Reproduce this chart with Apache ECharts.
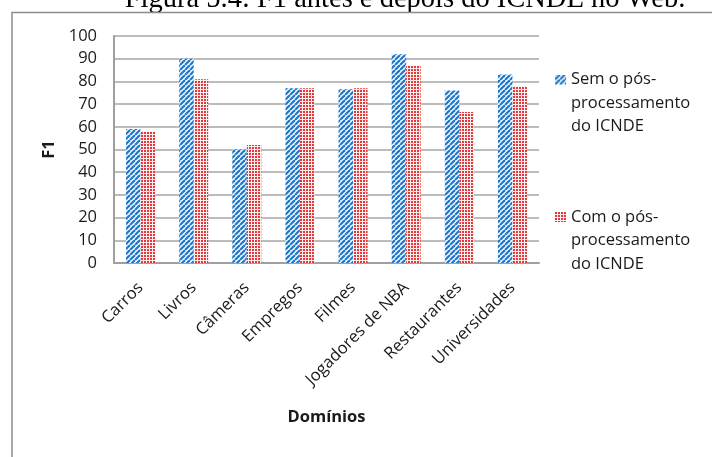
<!DOCTYPE html>
<html>
<head>
<meta charset="utf-8">
<script src="https://cdn.jsdelivr.net/npm/echarts@6/dist/echarts.min.js"></script>
<style>
  html, body { margin: 0; padding: 0; background: #fff; }
  #chart { width: 712px; height: 457px; }
</style>
</head>
<body>
<div id="chart"></div>
<script>
// Domains evaluated and F1 scores (%) with and without ICNDE post-processing
const categories = ['Carros', 'Livros', 'Câmeras', 'Empregos', 'Filmes', 'Jogadores de NBA', 'Restaurantes', 'Universidades'];
const semPos = [59, 90, 50, 77, 76.5, 92, 76, 83];
const comPos = [58, 81, 52, 77, 77, 87, 66.5, 78];
const seriesNames = ['Sem o pós-processamento do ICNDE', 'Com o pós-processamento do ICNDE'];
const legendLines = {
  'Sem o pós-processamento do ICNDE': 'Sem o pós-\nprocessamento\ndo ICNDE',
  'Com o pós-processamento do ICNDE': 'Com o pós-\nprocessamento\ndo ICNDE'
};
const yTicks = { min: 0, max: 100, interval: 10 };

// Hatch fill: upward diagonal blue stripes
function stripeTile() {
  const n = 5;
  const c = document.createElement('canvas');
  c.width = c.height = n;
  const g = c.getContext('2d');
  g.fillStyle = '#f4f8fd';
  g.fillRect(0, 0, n, n);
  g.strokeStyle = '#1e78cc';
  g.lineWidth = 2.2;
  for (const o of [-n, 0, n]) {
    g.beginPath();
    g.moveTo(o, n);
    g.lineTo(o + n, 0);
    g.stroke();
  }
  return c;
}

// Dotted fill: small red squares on a pale background
function dotTile() {
  const c = document.createElement('canvas');
  c.width = c.height = 3;
  const g = c.getContext('2d');
  g.fillStyle = '#fdeeee';
  g.fillRect(0, 0, 3, 3);
  g.fillStyle = '#e4393c';
  g.fillRect(0, 0, 2, 2);
  return c;
}

const stripeCanvas = stripeTile();
const dotCanvas = dotTile();
const blueFill = { image: stripeCanvas, repeat: 'repeat' };
const redFill = { image: dotCanvas, repeat: 'repeat' };

const FONT = '"Open Sans", "DejaVu Sans", sans-serif';
const FS = 16.5;
const TEXT = '#1a1a1a';
const LINE_H = 23.5;
const ICON_W = 11, ICON_H = 10;
const ITEM_H = 2 * LINE_H + ICON_H;

// Legend swatch: patterned square at the top of a tall transparent strip,
// so that it sits beside the first line of the three-line label.
function legendIcon(tile) {
  const c = document.createElement('canvas');
  c.width = ICON_W;
  c.height = ITEM_H;
  const g = c.getContext('2d');
  g.fillStyle = g.createPattern(tile, 'repeat');
  g.fillRect(0, 0, ICON_W, ICON_H);
  return 'image://' + c.toDataURL();
}

function legendFor(name, tile, firstLineY) {
  return {
    data: [{ name: name, icon: legendIcon(tile) }],
    orient: 'vertical',
    left: 555,
    top: firstLineY - ICON_H / 2 - (1.5 * LINE_H - ITEM_H / 2),
    padding: 0,
    itemWidth: ICON_W,
    itemHeight: ITEM_H,
    formatter: n => legendLines[n],
    textStyle: {
      fontFamily: FONT,
      fontSize: FS,
      color: TEXT,
      lineHeight: LINE_H
    }
  };
}

const chart = echarts.init(document.getElementById('chart'), null, { renderer: 'canvas' });

chart.setOption({
  backgroundColor: '#fff',
  animation: false,
  graphic: [
    {
      type: 'text',
      x: 405,
      y: 0,
      style: {
        text: 'Figura 5.4: F1 antes e depois do ICNDE no Web.',
        font: '28.5px "Liberation Serif", "Times New Roman", serif',
        fill: '#000',
        align: 'center',
        verticalAlign: 'middle'
      }
    },
    {
      type: 'rect',
      shape: { x: 12, y: 12.5, width: 760, height: 500 },
      style: { fill: 'none', stroke: '#8c8c8c', lineWidth: 1.5 },
      silent: true
    }
  ],
  grid: { left: 114, right: 173, top: 36, bottom: 194, containLabel: false },
  legend: [
    legendFor(seriesNames[0], stripeCanvas, 79.5),
    legendFor(seriesNames[1], dotCanvas, 217)
  ],
  xAxis: {
    type: 'category',
    data: categories,
    name: 'Domínios',
    nameLocation: 'middle',
    nameGap: 146,
    nameTextStyle: { fontFamily: FONT, fontSize: FS, fontWeight: 'bold', color: TEXT },
    axisLine: { lineStyle: { color: '#a0a0a0', width: 2 } },
    axisTick: { show: false },
    axisLabel: {
      rotate: 45,
      margin: 22,
      interval: 0,
      fontFamily: FONT,
      fontSize: FS,
      color: TEXT
    }
  },
  yAxis: {
    type: 'value',
    min: yTicks.min,
    max: yTicks.max,
    interval: yTicks.interval,
    name: 'F1',
    nameLocation: 'middle',
    nameGap: 56,
    nameRotate: 90,
    nameTextStyle: { fontFamily: FONT, fontSize: FS, fontWeight: 'bold', color: TEXT },
    axisLine: { show: true, lineStyle: { color: '#a0a0a0', width: 2 } },
    axisTick: { show: false },
    axisLabel: { margin: 17, fontFamily: FONT, fontSize: FS, color: TEXT },
    splitLine: { lineStyle: { color: '#a6a6a6', width: 1.6 } }
  },
  series: [
    {
      name: seriesNames[0],
      type: 'bar',
      data: semPos,
      barWidth: 14.5,
      barGap: '0%',
      itemStyle: { color: blueFill }
    },
    {
      name: seriesNames[1],
      type: 'bar',
      data: comPos,
      barWidth: 14.5,
      itemStyle: { color: redFill }
    }
  ]
});
</script>
</body>
</html>
